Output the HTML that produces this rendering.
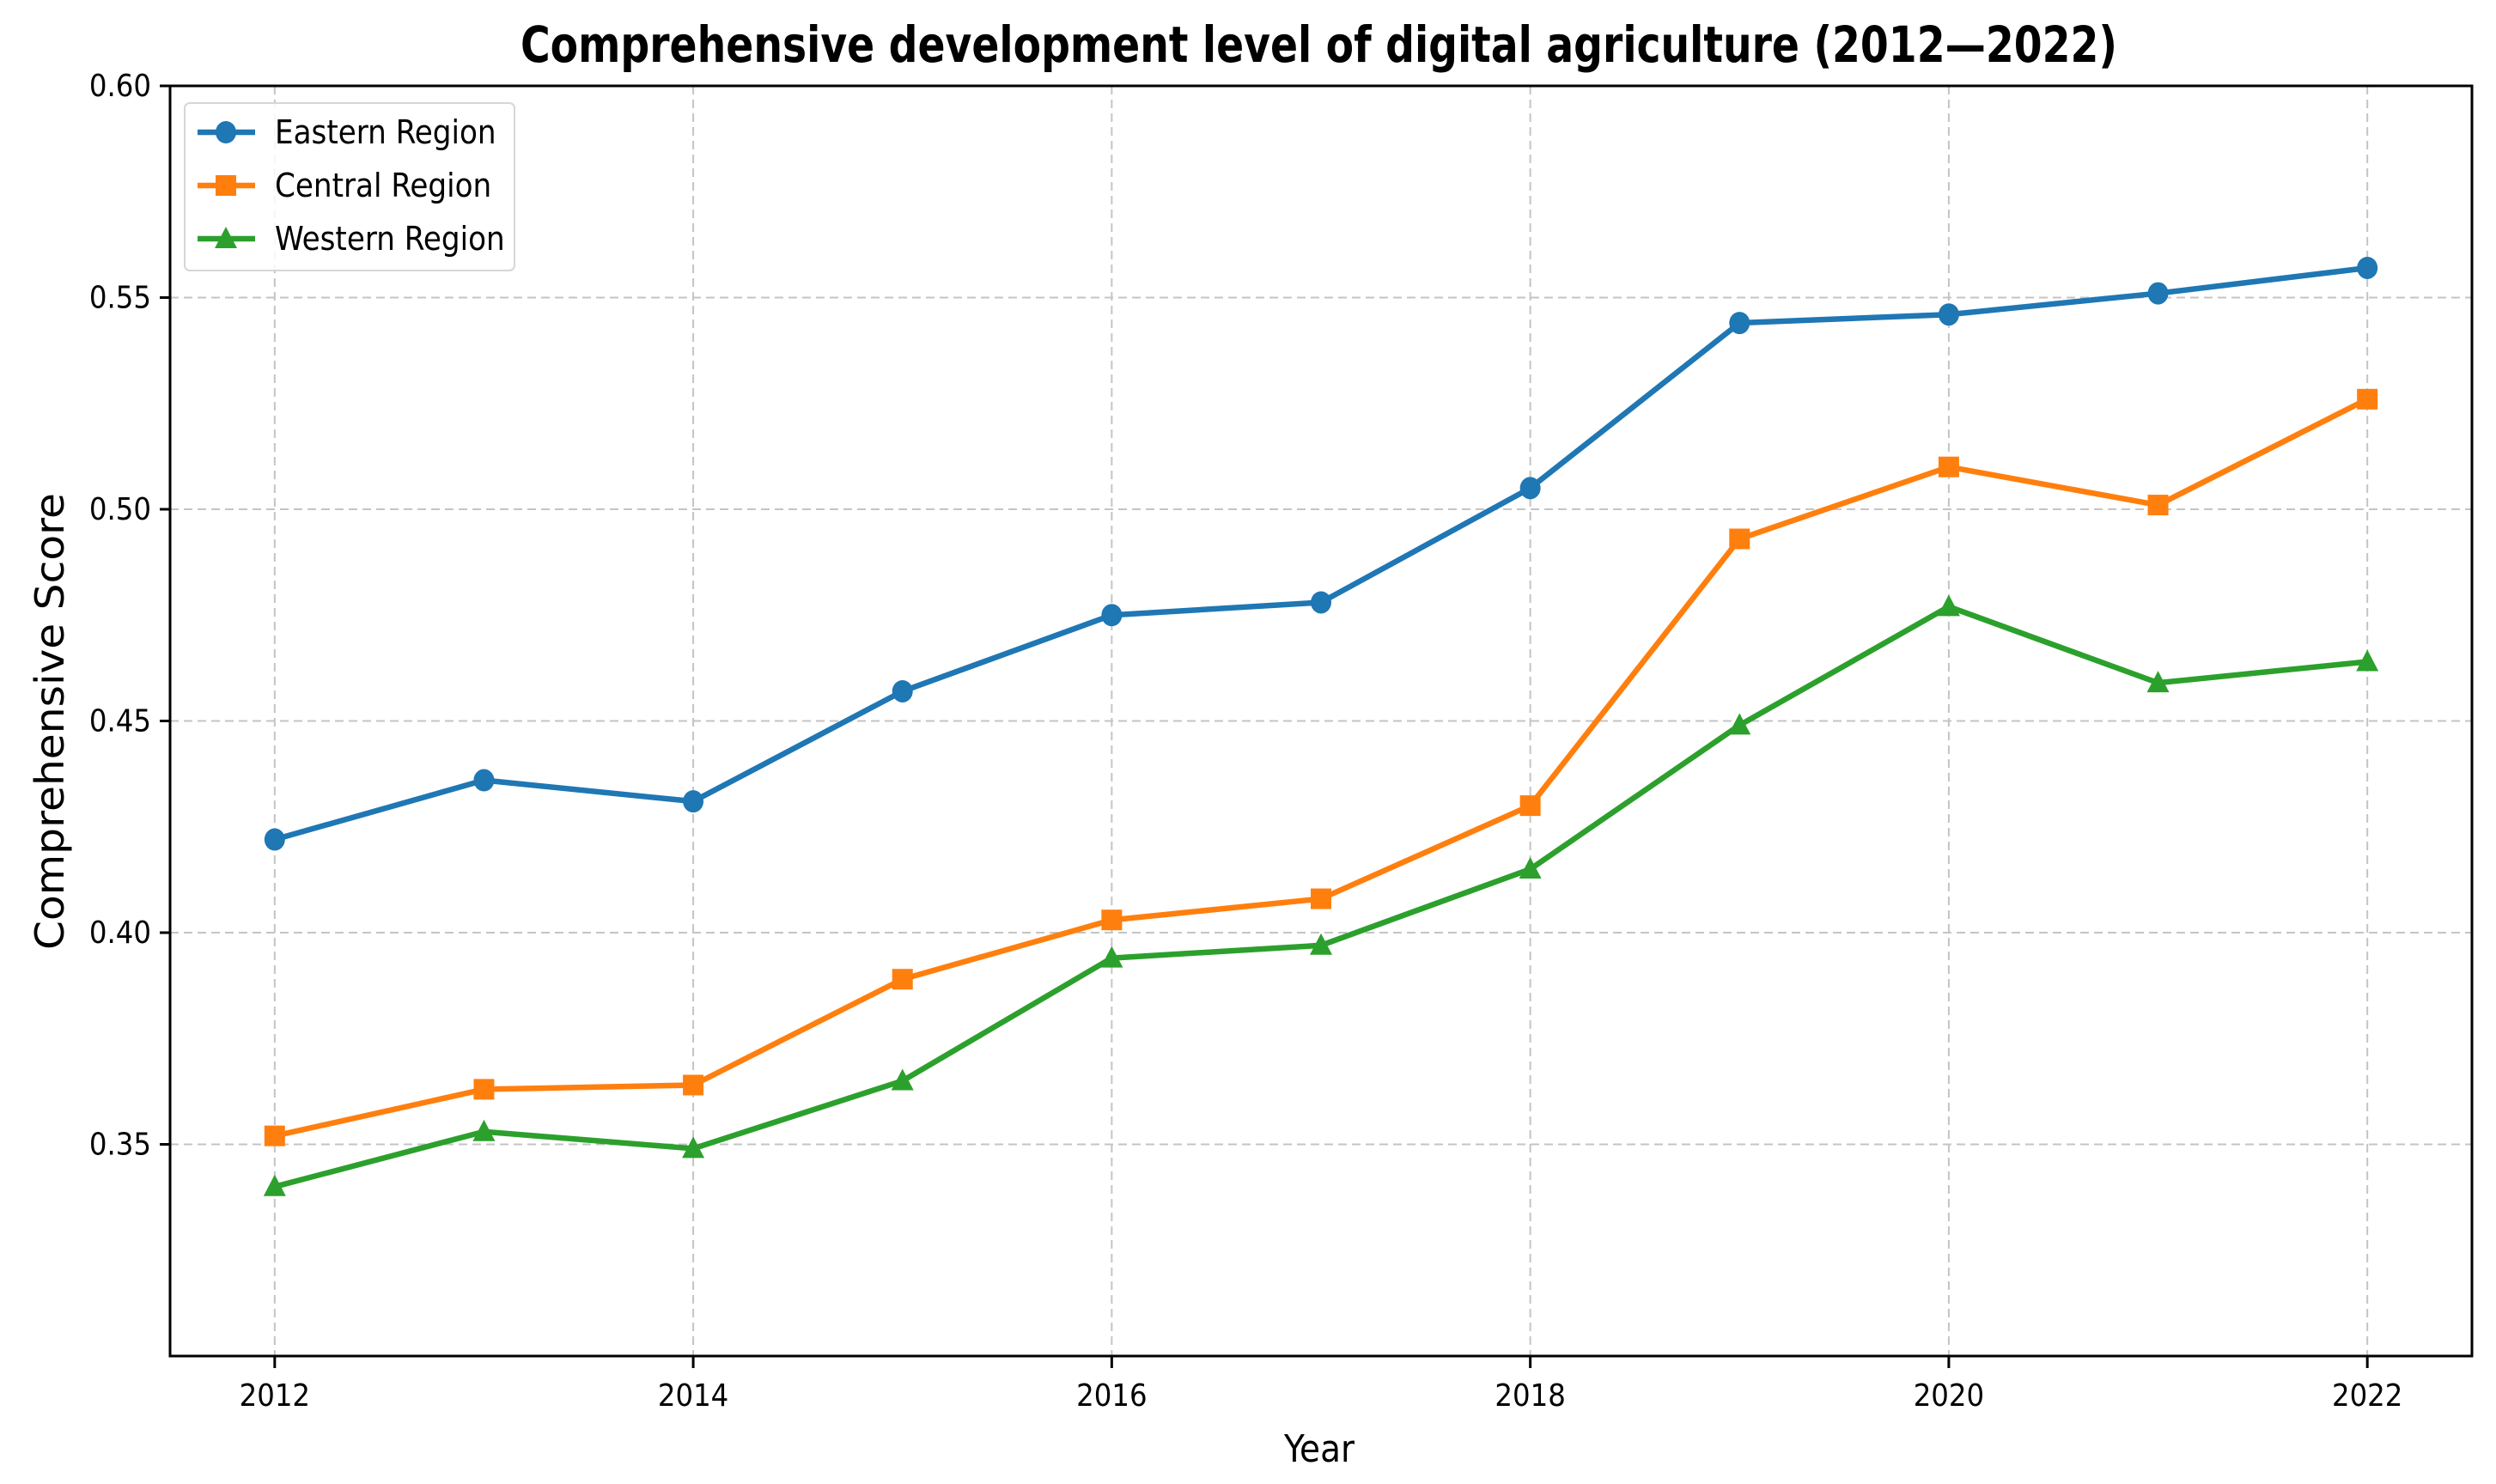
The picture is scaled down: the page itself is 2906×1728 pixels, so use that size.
<!DOCTYPE html>
<html><head><meta charset="utf-8"><style>
html,body{margin:0;padding:0;background:#fff;}
svg{display:block;}
text{font-family:"DejaVu Sans Condensed","DejaVu Sans","Liberation Sans",sans-serif;fill:#000;}
</style></head><body>
<svg id="chart" width="2906" height="1728" viewBox="0 0 2906 1728" xmlns="http://www.w3.org/2000/svg">
<rect width="2906" height="1728" fill="#fff"/>
<g id="grid"></g>
<g id="series"></g>
<rect x="198" y="100" width="2680" height="1479" fill="none" stroke="#000" stroke-width="3"/>
<g id="ticks"></g>
<text x="606" y="72" font-size="58" font-weight="bold" textLength="1859" lengthAdjust="spacingAndGlyphs">Comprehensive development level of digital agriculture (2012—2022)</text>
<text x="1536" y="1702" text-anchor="middle" font-size="44" textLength="82" lengthAdjust="spacingAndGlyphs">Year</text>
<text transform="translate(74,840) rotate(-90)" text-anchor="middle" font-size="46" textLength="532" lengthAdjust="spacingAndGlyphs" style="font-family:'DejaVu Sans','Liberation Sans',sans-serif">Comprehensive Score</text>
<g id="legend">
<rect x="215" y="120" width="384" height="195" rx="6" fill="#fff" fill-opacity="0.85" stroke="#d6d6d6" stroke-width="2"/>
</g>
</svg>
<script>
const years = [2012,2013,2014,2015,2016,2017,2018,2019,2020,2021,2022];
const eastern = [0.422,0.436,0.431,0.457,0.475,0.478,0.505,0.544,0.546,0.551,0.557];
const central = [0.352,0.363,0.364,0.389,0.403,0.408,0.430,0.493,0.510,0.501,0.526];
const western = [0.340,0.353,0.349,0.365,0.394,0.397,0.415,0.449,0.477,0.459,0.464];
const seriesNames = ["Eastern Region","Central Region","Western Region"];
const yTicks = [0.35,0.40,0.45,0.50,0.55,0.60];
const yTickLabels = ["0.35","0.40","0.45","0.50","0.55","0.60"];
const xTicks = [2012,2014,2016,2018,2020,2022];

const NS="http://www.w3.org/2000/svg";
const L=198,R=2878,T=100,B=1579, X0=2011.5,X1=2022.5,Y0=0.30,Y1=0.60;
function xs(v){return L+(v-X0)/(X1-X0)*(R-L);}
function ys(v){return B-(v-Y0)/(Y1-Y0)*(B-T);}
function mk(tag,attrs,parent){const e=document.createElementNS(NS,tag);for(const k in attrs)e.setAttribute(k,attrs[k]);parent.appendChild(e);return e;}
const grid=document.getElementById('grid'),ticks=document.getElementById('ticks'),ser=document.getElementById('series'),leg=document.getElementById('legend');
yTicks.forEach((v,i)=>{
  const g=mk('line',{x1:L,x2:R,y1:ys(v),y2:ys(v),stroke:'#c4c4c4','stroke-width':2,'stroke-dasharray':'10,6'},grid);
  
  
  const t=mk('line',{x1:L-12,x2:L,y1:ys(v),y2:ys(v),stroke:'#000','stroke-width':3},ticks);
  
  
  const tx=mk('text',{x:L-22,y:ys(v)+12,'text-anchor':'end','font-size':36},ticks);
  tx.textContent=yTickLabels[i];
  
  
});
xTicks.forEach(v=>{
  const g=mk('line',{x1:xs(v),x2:xs(v),y1:T,y2:B,stroke:'#c4c4c4','stroke-width':2,'stroke-dasharray':'10,6'},grid);
  
  
  const t=mk('line',{x1:xs(v),x2:xs(v),y1:B,y2:B+14,stroke:'#000','stroke-width':3},ticks);
  
  
  const tx=mk('text',{x:xs(v),y:B+58,'text-anchor':'middle','font-size':36},ticks);
  tx.textContent=String(v);
  
  
});
const colors=['#1f77b4','#ff7f0e','#2ca02c'];
const shapes=['circle','square','triangle'];
function marker(shape,cx,cy,color,parent){
  let e;
  if(shape==='circle') e=mk('ellipse',{cx:cx,cy:cy,rx:12,ry:13,fill:color},parent);
  else if(shape==='square') e=mk('rect',{x:cx-12,y:cy-12,width:24,height:24,fill:color},parent);
  else e=mk('polygon',{points:`${cx},${cy-14} ${cx+13},${cy+11} ${cx-13},${cy+11}`,fill:color},parent);
  return e;
}
[eastern,central,western].forEach((vals,si)=>{
  const g=mk('g',{},ser);
  
  
  const pts=vals.map((v,i)=>xs(years[i])+','+ys(v)).join(' ');
  const pl=mk('polyline',{points:pts,fill:'none',stroke:colors[si],'stroke-width':6.5,'stroke-linejoin':'round'},g);
  
  
  vals.forEach((v,i)=>{
    const m=marker(shapes[si],xs(years[i]),ys(v),colors[si],g);
    
    
  });
  const ly=154+si*62;
  const ll=mk('line',{x1:230,x2:297,y1:ly,y2:ly,stroke:colors[si],'stroke-width':6.5},leg);
  
  
  const lm=marker(shapes[si],263,ly,colors[si],leg);
  
  
  const lt=mk('text',{x:320,y:ly+13,'font-size':38},leg);
  lt.textContent=seriesNames[si];
  
  
});
</script>
</body></html>
